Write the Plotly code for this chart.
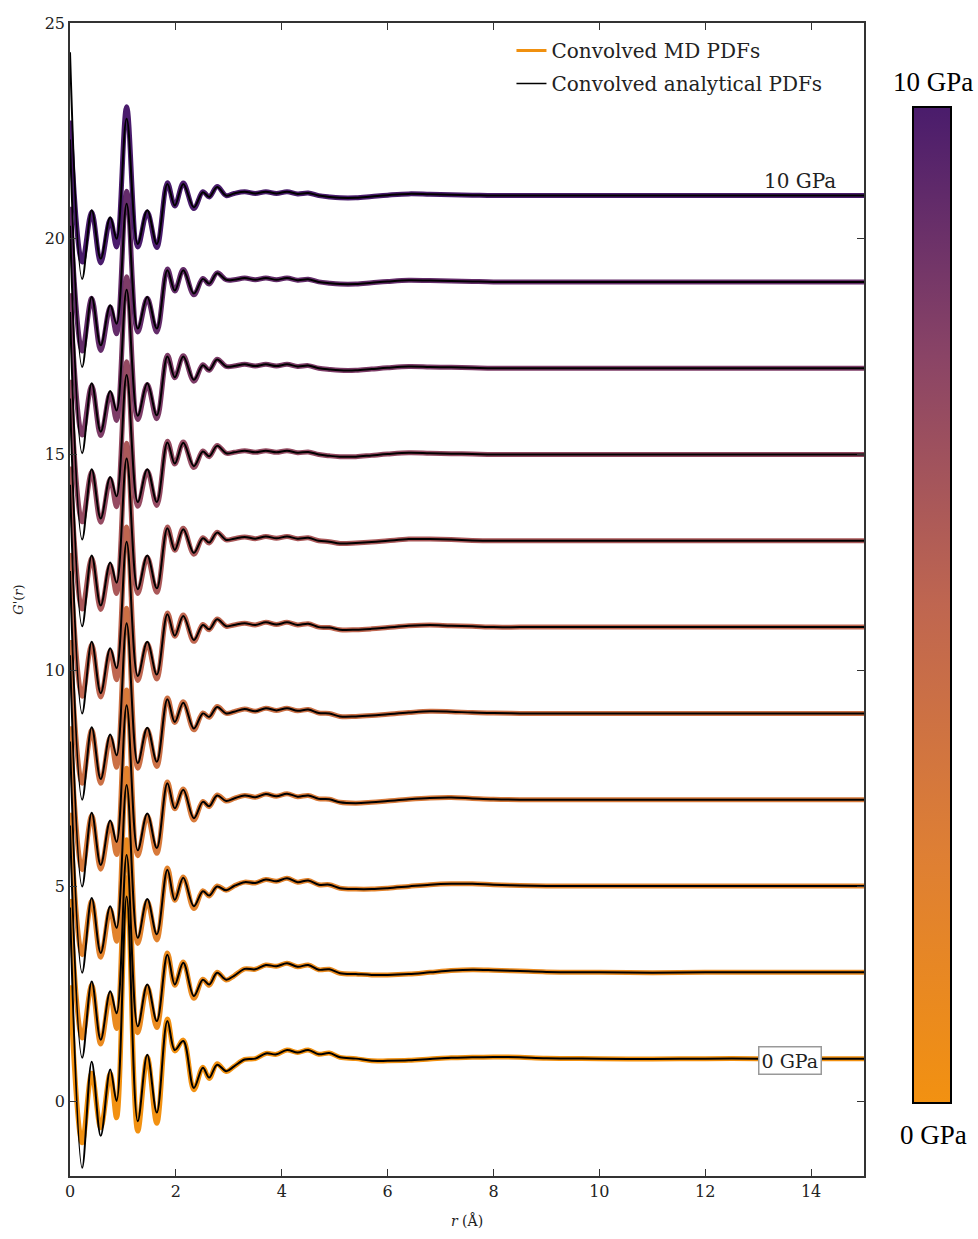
import plotly.graph_objects as go
from plotly.colors import sample_colorscale

# ---------------- data ----------------
PRESSURES = [0, 1, 2, 3, 4, 5, 6, 7, 8, 9, 10]          # GPa
OFFSETS = [1, 3, 5, 7, 9, 11, 13, 15, 17, 19, 21]        # vertical stacking

R_LOW = [0, 0.23, 0.41, 0.58, 0.76, 0.88, 1.07, 1.28, 1.46, 1.64,
         1.84, 1.98, 2.14, 2.34, 2.51, 2.63, 2.78, 2.95]
R_TAIL = [3.1, 3.3, 3.5, 3.7, 3.9, 4.1, 4.3, 4.5, 4.7, 4.9, 5.1, 5.4, 5.7,
          6.0, 6.4, 6.8, 7.2, 7.6, 8.0, 8.5, 9.0, 10, 11, 12, 13, 14, 15]

# convolved analytical PDFs, low-r part
AN_P0 = [3.5, -2.53, -0.07, -1.79, -0.25, -0.98, 3.76, -1.45, 0.09, -1.25, 0.87, 0.2, 0.41, -0.68, -0.21, -0.44, -0.14, -0.29]
AN_P1 = [3.4, -1.98, -0.21, -1.56, -0.44, -0.95, 2.72, -1.25, -0.28, -1.13, 0.41, -0.28, 0.22, -0.55, -0.17, -0.28, -0.01, -0.17]
AN_P2 = [3.35, -2.01, -0.28, -1.55, -0.47, -0.97, 2.34, -1.2, -0.3, -1.12, 0.38, -0.32, 0.19, -0.47, -0.12, -0.22, -0.01, -0.1]
AN_P3 = [3.35, -2.01, -0.3, -1.51, -0.48, -0.98, 2.19, -1.17, -0.32, -1.12, 0.38, -0.2, 0.23, -0.43, -0.05, -0.15, 0.1, -0.03]
AN_P4 = [3.3, -2.0, -0.32, -1.52, -0.49, -0.97, 2.09, -1.15, -0.33, -1.12, 0.33, -0.2, 0.25, -0.35, 0.0, -0.08, 0.15, 0.0]
AN_P5 = [3.3, -2.0, -0.34, -1.53, -0.49, -0.95, 1.98, -1.13, -0.34, -1.1, 0.3, -0.2, 0.26, -0.3, 0.05, -0.05, 0.18, 0.02]
AN_P6 = [3.3, -1.98, -0.34, -1.5, -0.5, -0.97, 1.91, -1.12, -0.34, -1.1, 0.29, -0.21, 0.27, -0.28, 0.06, -0.04, 0.19, 0.02]
AN_P7 = [3.3, -1.97, -0.34, -1.48, -0.52, -0.97, 1.84, -1.1, -0.34, -1.1, 0.28, -0.21, 0.27, -0.27, 0.07, -0.04, 0.2, 0.03]
AN_P8 = [3.3, -1.97, -0.35, -1.47, -0.53, -0.98, 1.82, -1.1, -0.35, -1.09, 0.27, -0.21, 0.27, -0.27, 0.07, -0.04, 0.2, 0.04]
AN_P9 = [3.3, -1.97, -0.35, -1.47, -0.54, -0.97, 1.81, -1.08, -0.35, -1.08, 0.27, -0.2, 0.27, -0.27, 0.07, -0.04, 0.2, 0.05]
AN_P10 = [3.32, -1.93, -0.34, -1.46, -0.5, -1.0, 1.78, -1.12, -0.34, -1.12, 0.27, -0.23, 0.27, -0.27, 0.08, -0.03, 0.2, 0.0]

# convolved MD PDFs, low-r part
MD_P0 = [1.7, -1.95, -0.34, -1.6, -0.35, -1.37, 4.19, -1.68, 0.04, -1.5, 0.92, 0.18, 0.43, -0.72, -0.2, -0.46, -0.12, -0.3]
MD_P1 = [1.7, -1.52, -0.3, -1.66, -0.5, -1.3, 3.07, -1.4, -0.33, -1.28, 0.45, -0.3, 0.24, -0.6, -0.16, -0.3, 0.0, -0.18]
MD_P2 = [1.7, -1.59, -0.35, -1.65, -0.53, -1.28, 2.73, -1.33, -0.35, -1.25, 0.42, -0.33, 0.21, -0.52, -0.11, -0.23, 0.0, -0.1]
MD_P3 = [1.7, -1.62, -0.37, -1.61, -0.54, -1.27, 2.54, -1.3, -0.37, -1.24, 0.41, -0.21, 0.25, -0.47, -0.04, -0.16, 0.11, -0.03]
MD_P4 = [1.7, -1.62, -0.39, -1.62, -0.55, -1.25, 2.44, -1.27, -0.37, -1.23, 0.36, -0.21, 0.27, -0.38, 0.01, -0.09, 0.16, 0.0]
MD_P5 = [1.72, -1.6, -0.4, -1.62, -0.55, -1.22, 2.32, -1.24, -0.38, -1.2, 0.33, -0.21, 0.28, -0.33, 0.06, -0.06, 0.19, 0.02]
MD_P6 = [1.72, -1.58, -0.4, -1.59, -0.56, -1.22, 2.26, -1.22, -0.38, -1.19, 0.32, -0.22, 0.29, -0.31, 0.07, -0.05, 0.2, 0.02]
MD_P7 = [1.73, -1.56, -0.4, -1.57, -0.57, -1.21, 2.15, -1.2, -0.38, -1.18, 0.31, -0.22, 0.29, -0.3, 0.08, -0.05, 0.21, 0.03]
MD_P8 = [1.74, -1.55, -0.4, -1.56, -0.58, -1.21, 2.12, -1.19, -0.38, -1.17, 0.3, -0.22, 0.29, -0.3, 0.08, -0.05, 0.21, 0.04]
MD_P9 = [1.74, -1.6, -0.38, -1.59, -0.58, -1.2, 2.1, -1.16, -0.38, -1.16, 0.3, -0.21, 0.29, -0.3, 0.08, -0.05, 0.21, 0.05]
MD_P10 = [1.74, -1.54, -0.38, -1.56, -0.55, -1.19, 2.06, -1.19, -0.38, -1.2, 0.3, -0.24, 0.29, -0.3, 0.09, -0.03, 0.21, 0.0]

# long-range part (both series coincide here)
TAIL_P0 = [-0.18, -0.02, 0.0, 0.12, 0.1, 0.2, 0.14, 0.2, 0.1, 0.13, 0.03, 0.0, -0.05, -0.05, -0.04, -0.01, 0.02, 0.03, 0.04, 0.03, 0.01, 0.0, -0.01, 0.0, 0.0, 0.0, 0.0]
TAIL_P1 = [-0.08, 0.08, 0.07, 0.17, 0.14, 0.21, 0.13, 0.17, 0.06, 0.07, -0.02, -0.04, -0.06, -0.06, -0.04, 0.0, 0.04, 0.06, 0.05, 0.03, 0.01, 0.0, -0.01, 0.0, 0.0, 0.0, 0.0]
TAIL_P2 = [0.0, 0.09, 0.07, 0.15, 0.11, 0.18, 0.09, 0.13, 0.03, 0.03, -0.05, -0.07, -0.07, -0.05, -0.01, 0.03, 0.05, 0.05, 0.03, 0.01, 0.0, 0.0, 0.0, 0.0, 0.0, 0.0, 0.0]
TAIL_P3 = [0.03, 0.1, 0.06, 0.13, 0.08, 0.14, 0.07, 0.1, 0.02, 0.01, -0.06, -0.08, -0.06, -0.03, 0.01, 0.04, 0.05, 0.03, 0.01, 0.0, 0.0, 0.0, 0.0, 0.0, 0.0, 0.0, 0.0]
TAIL_P4 = [0.04, 0.1, 0.05, 0.12, 0.07, 0.12, 0.06, 0.09, 0.01, 0.0, -0.07, -0.07, -0.05, -0.02, 0.02, 0.05, 0.04, 0.02, 0.01, 0.0, 0.0, 0.0, 0.0, 0.0, 0.0, 0.0, 0.0]
TAIL_P5 = [0.05, 0.09, 0.05, 0.11, 0.06, 0.11, 0.05, 0.08, 0.0, -0.01, -0.06, -0.06, -0.04, -0.01, 0.03, 0.05, 0.03, 0.02, 0.0, 0.0, 0.0, 0.0, 0.0, 0.0, 0.0, 0.0, 0.0]
TAIL_P6 = [0.05, 0.09, 0.05, 0.1, 0.06, 0.1, 0.05, 0.07, 0.0, -0.02, -0.06, -0.05, -0.03, 0.0, 0.04, 0.04, 0.03, 0.01, 0.0, 0.0, 0.0, 0.0, 0.0, 0.0, 0.0, 0.0, 0.0]
TAIL_P7 = [0.05, 0.09, 0.05, 0.09, 0.05, 0.09, 0.04, 0.06, 0.0, -0.03, -0.05, -0.05, -0.02, 0.01, 0.04, 0.03, 0.02, 0.01, 0.0, 0.0, 0.0, 0.0, 0.0, 0.0, 0.0, 0.0, 0.0]
TAIL_P8 = [0.05, 0.09, 0.05, 0.09, 0.05, 0.09, 0.04, 0.06, 0.0, -0.03, -0.05, -0.05, -0.02, 0.01, 0.04, 0.03, 0.02, 0.01, 0.0, 0.0, 0.0, 0.0, 0.0, 0.0, 0.0, 0.0, 0.0]
TAIL_P9 = [0.05, 0.09, 0.05, 0.09, 0.05, 0.09, 0.04, 0.06, 0.0, -0.03, -0.05, -0.05, -0.02, 0.01, 0.04, 0.03, 0.02, 0.01, 0.0, 0.0, 0.0, 0.0, 0.0, 0.0, 0.0, 0.0, 0.0]
TAIL_P10 = [0.05, 0.09, 0.05, 0.09, 0.05, 0.09, 0.04, 0.06, 0.0, -0.03, -0.05, -0.05, -0.02, 0.01, 0.04, 0.03, 0.02, 0.01, 0.0, 0.0, 0.0, 0.0, 0.0, 0.0, 0.0, 0.0, 0.0]

AN_LOW = [AN_P0, AN_P1, AN_P2, AN_P3, AN_P4, AN_P5, AN_P6, AN_P7, AN_P8, AN_P9, AN_P10]
MD_LOW = [MD_P0, MD_P1, MD_P2, MD_P3, MD_P4, MD_P5, MD_P6, MD_P7, MD_P8, MD_P9, MD_P10]
TAILS = [TAIL_P0, TAIL_P1, TAIL_P2, TAIL_P3, TAIL_P4, TAIL_P5, TAIL_P6, TAIL_P7, TAIL_P8, TAIL_P9, TAIL_P10]

X_TICKS = [0, 2, 4, 6, 8, 10, 12, 14]
Y_TICKS = [0, 5, 10, 15, 20, 25]

# ---------------- style ----------------
CSCALE = [[0.0, "#F29111"], [0.25, "#DE7F34"], [0.5, "#BF6650"],
          [0.75, "#8A4466"], [1.0, "#4A1C6C"]]
SERIF = "DejaVu Serif"

fig = go.Figure()
r_all = R_LOW + R_TAIL

for i, p in enumerate(PRESSURES):
    col = sample_colorscale(CSCALE, [p / 10])[0]
    y = [v + OFFSETS[i] for v in MD_LOW[i] + TAILS[i]]
    fig.add_trace(go.Scatter(x=r_all, y=y, mode="lines", showlegend=False,
                             line=dict(color=col, width=5, shape="spline", smoothing=1.0),
                             hoverinfo="skip"))
for i, p in enumerate(PRESSURES):
    y = [v + OFFSETS[i] for v in AN_LOW[i] + TAILS[i]]
    fig.add_trace(go.Scatter(x=r_all, y=y, mode="lines", showlegend=False,
                             line=dict(color="black", width=2, shape="spline", smoothing=1.0),
                             hoverinfo="skip"))

# legend entries
fig.add_trace(go.Scatter(x=[None], y=[None], mode="lines", name="Convolved MD PDFs",
                         legendgroup="a", line=dict(color="#F0900F", width=3)))
fig.add_trace(go.Scatter(x=[None], y=[None], mode="lines", name="Convolved analytical PDFs",
                         legendgroup="b", line=dict(color="black", width=1.5)))

# colorbar
fig.add_trace(go.Scatter(
    x=[None], y=[None], mode="markers", showlegend=False,
    marker=dict(color=[min(PRESSURES), max(PRESSURES)], cmin=min(PRESSURES), cmax=max(PRESSURES),
                colorscale=CSCALE, showscale=True,
                colorbar=dict(thickness=38, len=996, lenmode="pixels",
                              x=1.0617, xanchor="left", xpad=0, ypad=0,
                              y=0.495, yanchor="middle",
                              outlinecolor="black", outlinewidth=2,
                              showticklabels=False, ticks=""))))

axis_common = dict(showline=True, linecolor="#333", linewidth=1.5, mirror="ticks",
                   ticks="inside", ticklen=7, tickcolor="#333", showgrid=False,
                   zeroline=False, tickfont=dict(family=SERIF, size=16, color="#222"))

fig.update_layout(
    width=978, height=1239,
    margin=dict(l=70, r=114, t=23, b=61),
    paper_bgcolor="white", plot_bgcolor="white",
    xaxis=dict(range=[0, 15], tickvals=X_TICKS, **axis_common,
               title=dict(text="<i>r</i> (Å)", font=dict(family=SERIF, size=14, color="#222"),
                          standoff=16)),
    yaxis=dict(range=[-1.72, 25], tickvals=Y_TICKS, **axis_common,
               title=dict(text="<i>G</i>'(<i>r</i>)", font=dict(family=SERIF, size=13, color="#222"),
                          standoff=18)),
    legend=dict(x=0.556, y=0.993, xanchor="left", yanchor="top",
                bgcolor="rgba(0,0,0,0)", borderwidth=0,
                font=dict(family=SERIF, size=20, color="#222"),
                tracegroupgap=4, itemwidth=30),
    annotations=[
        dict(x=13.8, y=21.0, xref="x", yref="y", text="10 GPa", showarrow=False,
             yshift=15, font=dict(family=SERIF, size=20, color="#222")),
        dict(x=13.6, y=1.0, xref="x", yref="y", text="0 GPa", showarrow=False,
             bordercolor="#999", borderwidth=1.5, borderpad=2, bgcolor="white",
             yshift=-2, font=dict(family=SERIF, size=19, color="#222")),
        dict(x=1.087, y=1.0, xref="paper", yref="paper", xanchor="center", yanchor="bottom",
             text="10 GPa", showarrow=False, yshift=-76,
             font=dict(family="Liberation Serif", size=27, color="black")),
        dict(x=1.087, y=0.0, xref="paper", yref="paper", xanchor="center", yanchor="top",
             text="0 GPa", showarrow=False, yshift=58,
             font=dict(family="Liberation Serif", size=27, color="black")),
    ],
)

fig.write_html("out.html")
